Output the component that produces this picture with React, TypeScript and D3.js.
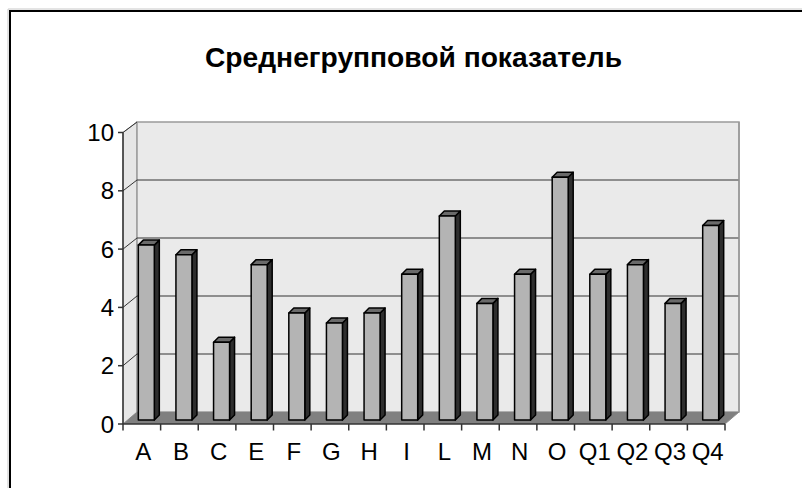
import React from "react";
import * as d3 from "d3";

const categories = ["A", "B", "C", "E", "F", "G", "H", "I", "L", "M", "N", "O", "Q1", "Q2", "Q3", "Q4"];
const values = [6, 5.67, 2.67, 5.33, 3.67, 3.33, 3.67, 5, 7, 4, 5, 8.33, 5, 5.33, 4, 6.67];
const yTicks = [0, 2, 4, 6, 8, 10];
const title = "Среднегрупповой показатель";

const W = 802;
const H = 488;
const x0 = 123;
const x1 = 725;
const DX = 14;

export default function App() {
  const x = d3.scaleBand<string>().domain(categories).range([x0, x1]).padding(0);
  const yFront = d3.scaleLinear().domain([0, 10]).range([424, 132.5]);
  const yBack = d3.scaleLinear().domain([0, 10]).range([412, 122]);
  const yBar = d3.scaleLinear().domain([0, 10]).range([420, 128.5]);
  const bw = x.bandwidth();
  const barW = 16;
  const bzx = 4.5;
  const sd = 5;

  const font = "'Liberation Sans', Arial, sans-serif";

  return (
    <svg width={W} height={H} style={{ position: "absolute", left: 0, top: 0 }} xmlns="http://www.w3.org/2000/svg">
      <rect x={0} y={0} width={W} height={H} fill="#fff" />
      {/* outer frame */}
      <line x1={8} y1={9} x2={W} y2={9} stroke="#c8c8c8" strokeWidth={1} />
      <line x1={8} y1={9} x2={8} y2={H} stroke="#c8c8c8" strokeWidth={1} />
      <rect x={10} y={11} width={W + 20} height={H + 20} fill="none" stroke="#000" strokeWidth={2} />

      <text x={413.5} y={66.5} textAnchor="middle" fontFamily={font} fontWeight="bold" fontSize={28}
        textLength={417} lengthAdjust="spacingAndGlyphs">{title}</text>

      {/* left side wall */}
      <polygon points={`${x0},${yFront(0)} ${x0},${yFront(10)} ${x0 + DX},${yBack(10)} ${x0 + DX},${yBack(0)}`}
        fill="#e6e6e6" stroke="#8c8c8c" strokeWidth={1} />
      {/* back wall */}
      <rect x={x0 + DX} y={yBack(10)} width={x1 - x0} height={yBack(0) - yBack(10)} fill="#eaeaea" stroke="#9a9a9a" strokeWidth={1.5} />
      {/* gridlines */}
      {yTicks.filter(t => t > 0 && t < 10).map(t => (
        <g key={t}>
          <line x1={x0 + DX} x2={x1 + DX} y1={yBack(t)} y2={yBack(t)} stroke="#333" strokeWidth={1} />
          <line x1={x0} x2={x0 + DX} y1={yFront(t)} y2={yBack(t)} stroke="#333" strokeWidth={1} />
        </g>
      ))}
      <line x1={x0} x2={x0 + DX} y1={yFront(10)} y2={yBack(10)} stroke="#333" strokeWidth={1} />
      {/* floor */}
      <polygon points={`${x0},${yFront(0)} ${x1},${yFront(0)} ${x1 + DX},${yBack(0)} ${x0 + DX},${yBack(0)}`}
        fill="#808080" />
      <line x1={x1} y1={yFront(0)} x2={x1 + DX} y2={yBack(0)} stroke="#8c8c8c" strokeWidth={1} />
      <line x1={x1 + DX} y1={yBack(0)} x2={x1 + DX} y2={yBack(10)} stroke="#9a9a9a" strokeWidth={1.5} />

      {/* bars */}
      {categories.map((c, i) => {
        const bx = (x(c) as number) + (bw - barW) / 2 + bzx;
        const top = yBar(values[i]);
        const bottom = yBar(0);
        return (
          <g key={c} stroke="#000" strokeWidth={1.5} strokeLinejoin="round">
            <polygon points={`${bx + barW},${top} ${bx + barW + sd},${top - sd} ${bx + barW + sd},${bottom - sd} ${bx + barW},${bottom}`} fill="#2e2e2e" />
            <polygon points={`${bx},${top} ${bx + sd},${top - sd} ${bx + barW + sd},${top - sd} ${bx + barW},${top}`} fill="#6a6a6a" />
            <rect x={bx} y={top} width={barW} height={bottom - top} fill="#b4b4b4" />
          </g>
        );
      })}

      {/* axes */}
      <line x1={x0} x2={x0} y1={yFront(0)} y2={yFront(10)} stroke="#333" strokeWidth={1.5} />
      <line x1={x0} x2={x1} y1={yFront(0)} y2={yFront(0)} stroke="#333" strokeWidth={1.5} />
      {yTicks.map(t => (
        <g key={t}>
          <line x1={x0 - 5} x2={x0} y1={yFront(t)} y2={yFront(t)} stroke="#333" strokeWidth={1.5} />
          <text x={114} y={yFront(t) + 8.5} textAnchor="end" fontFamily={font} fontSize={24}>{t}</text>
        </g>
      ))}
      {d3.range(categories.length + 1).map(i => {
        const tx = x0 + i * bw;
        return <line key={i} x1={tx} x2={tx} y1={yFront(0)} y2={yFront(0) + 6.5} stroke="#333" strokeWidth={1.5} />;
      })}
      {categories.map(c => (
        <text key={c} x={(x(c) as number) + bw / 2 + 1.5} y={459.5} textAnchor="middle" fontFamily={font} fontSize={24}>{c}</text>
      ))}
    </svg>
  );
}
